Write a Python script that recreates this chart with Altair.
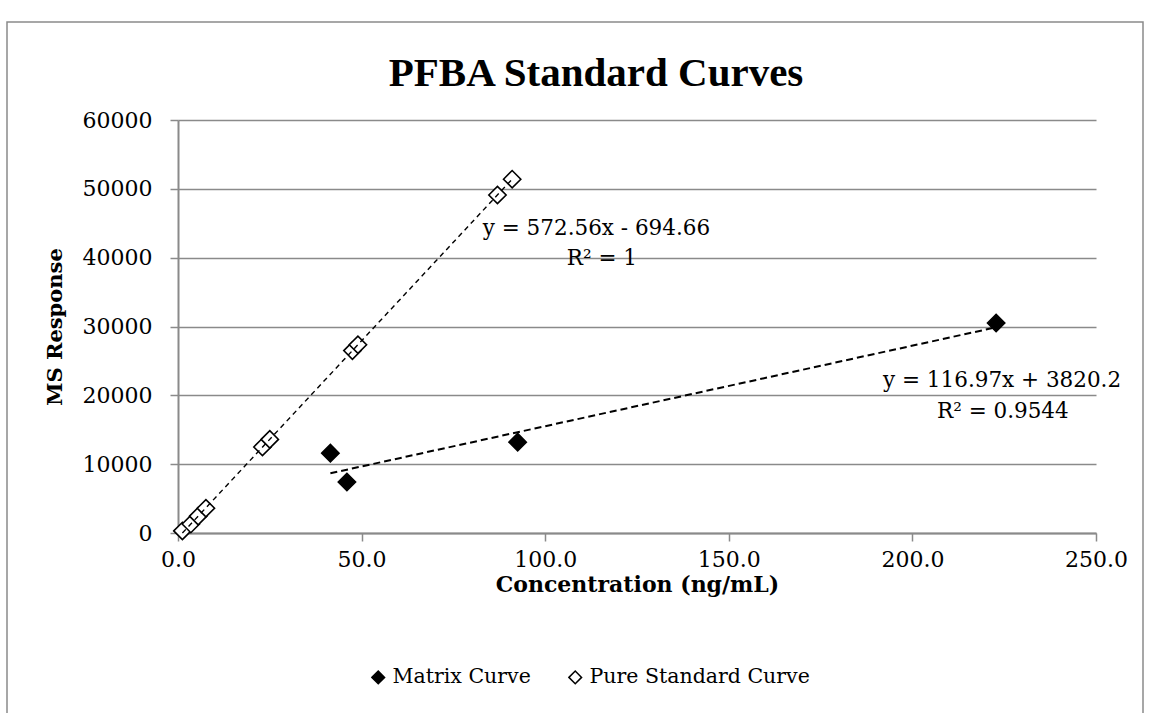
import altair as alt
import pandas as pd

# Calibration data: concentration (ng/mL) vs MS response
matrix_conc = [41.5, 46.0, 92.5, 222.8]
matrix_resp = [11600, 7400, 13200, 30500]

pure_conc = [1.2, 3.5, 5.5, 7.6, 23.0, 25.0, 47.5, 49.0, 87.0, 91.0]
pure_resp = [300, 1300, 2450, 3600, 12500, 13600, 26500, 27350, 49100, 51400]

series_names = ["Matrix Curve", "Pure Standard Curve"]

# Linear fits (slope, intercept) as reported on the chart
matrix_fit = (116.97, 3820.2)
pure_fit = (572.56, -694.66)
matrix_eq = ["y = 116.97x + 3820.2", "R² = 0.9544"]
pure_eq = ["y = 572.56x - 694.66", "R² = 1"]

x_ticks = [0, 50, 100, 150, 200, 250]
y_ticks = [0, 10000, 20000, 30000, 40000, 50000, 60000]

FONT = "DejaVu Serif"
TITLE_FONT = "Liberation Serif"
GRID = "#8a8a8a"

points = pd.DataFrame(
    {
        "conc": matrix_conc + pure_conc,
        "resp": matrix_resp + pure_resp,
        "series": [series_names[0]] * len(matrix_conc) + [series_names[1]] * len(pure_conc),
    }
)


def fit_segment(xs, fit, name):
    lo, hi = min(xs), max(xs)
    slope, icpt = fit
    return pd.DataFrame(
        {"conc": [lo, hi], "resp": [slope * lo + icpt, slope * hi + icpt], "series": [name, name]}
    )


x_scale = alt.Scale(domain=[0, 250], nice=False, zero=False)
y_scale = alt.Scale(domain=[0, 60000], nice=False)

x_enc = alt.X(
    "conc:Q",
    scale=x_scale,
    title="Concentration (ng/mL)",
    axis=alt.Axis(
        values=x_ticks,
        format=".1f",
        grid=False,
        tickSize=8,
        labelPadding=8,
        titlePadding=4,
        titleFontSize=22,
        labelFlush=False,
    ),
)
y_enc = alt.Y(
    "resp:Q",
    scale=y_scale,
    title="MS Response",
    axis=alt.Axis(
        values=y_ticks,
        format="d",
        grid=True,
        tickSize=8,
        labelPadding=18,
        titlePadding=17,
        labelFlush=False,
    ),
)

pts = (
    alt.Chart(points)
    .mark_point(shape="diamond", size=300, filled=True, stroke="black", strokeWidth=1.6, opacity=1)
    .encode(
        x=x_enc,
        y=y_enc,
        fill=alt.Fill(
            "series:N",
            scale=alt.Scale(domain=series_names, range=["black", "white"]),
            legend=alt.Legend(
                title=None,
                orient="none",
                direction="horizontal",
                legendX=190,
                legendY=547,
                symbolType="diamond",
                symbolSize=160,
                symbolStrokeColor="black",
                symbolStrokeWidth=1.5,
                labelFont=FONT,
                labelFontSize=20.5,
                labelColor="black",
                labelLimit=0,
                columnPadding=34,
                labelOffset=4,
            ),
        ),
    )
)

pure_line = (
    alt.Chart(fit_segment(pure_conc, pure_fit, series_names[1]))
    .mark_line(color="black", strokeDash=[5, 4], strokeWidth=1.4)
    .encode(x="conc:Q", y="resp:Q")
)
matrix_line = (
    alt.Chart(fit_segment(matrix_conc, matrix_fit, series_names[0]))
    .mark_line(color="black", strokeDash=[7, 4], strokeWidth=2)
    .encode(x="conc:Q", y="resp:Q")
)

# Fit equation labels, anchored at their left edge / baseline
labels = pd.DataFrame(
    {
        "conc": [83.0, 105.9, 192.0, 206.7],
        "resp": [43300, 38900, 21200, 16700],
        "text": pure_eq + matrix_eq,
        "size": [21.5, 21.5, 21.5, 21.5],
    }
)
eq_text = (
    alt.Chart(labels)
    .mark_text(font=FONT, color="black", baseline="alphabetic", align="left")
    .encode(
        x="conc:Q",
        y="resp:Q",
        text="text:N",
        size=alt.Size("size:Q", scale=None, legend=None),
    )
)

title = (
    alt.Chart(pd.DataFrame({"t": ["PFBA Standard Curves"]}))
    .mark_text(font=TITLE_FONT, fontSize=41, fontWeight="bold", color="black", baseline="alphabetic")
    .encode(x=alt.value(418), y=alt.value(-34), text="t:N")
)

frame = (
    alt.Chart(pd.DataFrame({"k": [0]}))
    .mark_rect(filled=False, stroke=GRID, strokeWidth=1.5)
    .encode(x=alt.value(-171), x2=alt.value(965), y=alt.value(-98), y2=alt.value(600))
)

chart = (
    alt.layer(frame, pts, pure_line, matrix_line, eq_text, title)
    .properties(
        width=918,
        height=413,
        autosize=alt.AutoSizeParams(type="none"),
        padding={"left": 178, "top": 120, "right": 56, "bottom": 180},
        background="white",
    )
    .configure_view(stroke=None)
    .configure_axis(
        labelFont=FONT,
        labelFontSize=22,
        labelColor="black",
        titleFont=FONT,
        titleFontSize=21,
        titleFontWeight="bold",
        titleColor="black",
        domainColor=GRID,
        domainWidth=2,
        tickColor=GRID,
        tickWidth=1.5,
        gridColor=GRID,
        gridWidth=1.5,
    )
)

chart.save("out.html", embed_options={"renderer": "svg", "actions": False})
